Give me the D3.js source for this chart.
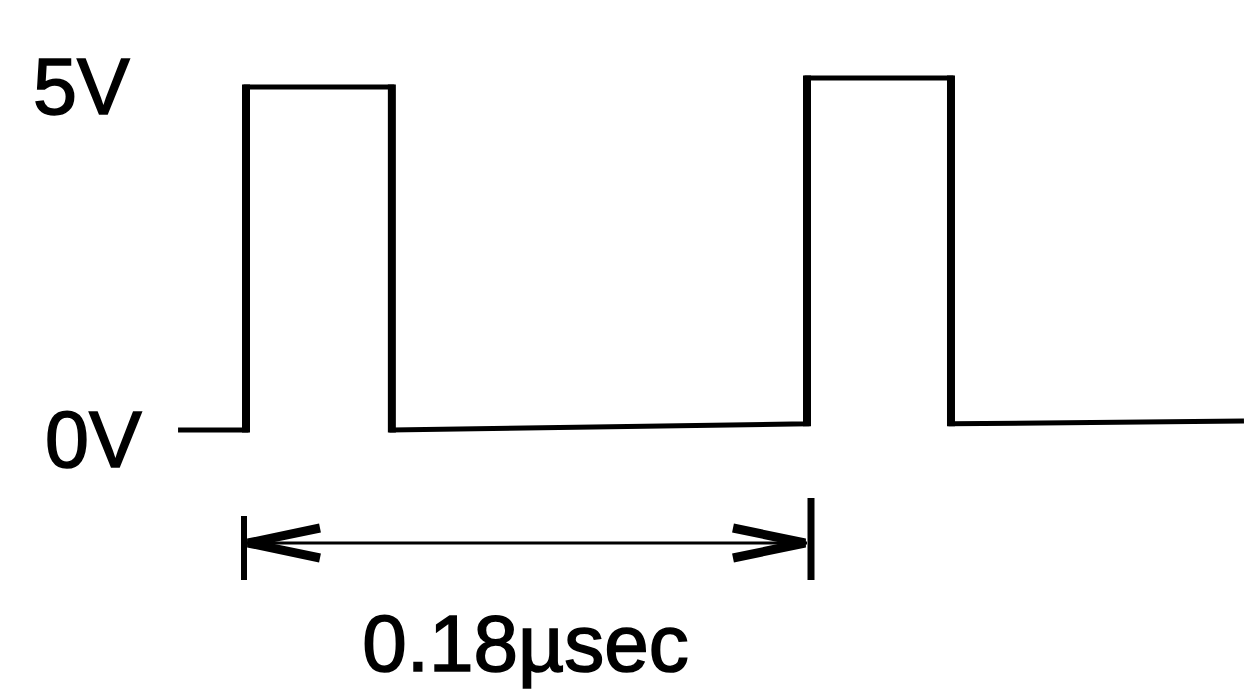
<!DOCTYPE html>
<html>
<head>
<meta charset="utf-8">
<script src="https://cdn.jsdelivr.net/npm/d3@7"></script>
<style>
  body { margin: 0; background: #fff; }
  svg { display: block; }
  text { font-family: "Liberation Sans", Arial, sans-serif; fill: #000; stroke: #000; stroke-width: 1.6px; }
</style>
</head>
<body>
<div id="chart"></div>
<script>
// waveform: time in usec, level in volts
var times  = [-0.0218, 0, 0, 0.0468, 0.0468, 0.18, 0.18, 0.2262, 0.2262, 0.3202];
var levels = [0, 0, 5, 5, 0, 0.09, 5.13, 5.13, 0.09, 0.13];
var levelLabels = ["5V", "0V"];
var levelValues = [5, 0];
var period = [0, 0.18];
var periodLabel = "0.18\u00b5sec";

var width = 1244,
    height = 700;

var x = d3.scaleLinear().domain([0, 0.18]).range([246, 807]);
var y = d3.scaleLinear().domain([0, 5]).range([430, 87]);

var svg = d3.select("#chart").append("svg")
    .attr("width", width)
    .attr("height", height);

var pts = times.map(function(t, i) { return [t, levels[i]]; });

var line = d3.line()
    .x(function(d) { return x(d[0]); })
    .y(function(d) { return y(d[1]); });

var hw = 5;
// whole trace, horizontals are thinner than the edges in the scan
svg.append("path")
    .attr("d", line(pts))
    .attr("fill", "none")
    .attr("stroke", "#000")
    .attr("stroke-width", hw)
    .attr("stroke-linejoin", "miter");

// heavier vertical edges
for (var i = 1; i < pts.length; i++) {
  if (pts[i][0] === pts[i - 1][0]) {
    var ya = y(pts[i - 1][1]), yb = y(pts[i][1]);
    var lo = Math.min(ya, yb) - hw / 2, hi = Math.max(ya, yb) + hw / 2;
    svg.append("line")
        .attr("x1", x(pts[i][0])).attr("x2", x(pts[i][0]))
        .attr("y1", lo).attr("y2", hi)
        .attr("stroke", "#000")
        .attr("stroke-width", 8);
  }
}

// level labels
svg.selectAll(".lvl")
    .data(levelLabels)
    .enter().append("text")
    .attr("class", "lvl")
    .attr("x", function(d, i) { return i === 0 ? 33 : 45; })
    .attr("y", function(d, i) { return y(levelValues[i]) + (i === 0 ? 27 : 37); })
    .style("font-size", "79px")
    .text(function(d) { return d; });

// period dimension arrow
var ay = 543;
var x0 = x(period[0]), x1 = x(period[1]);

svg.append("line")
    .attr("x1", x0).attr("x2", x1)
    .attr("y1", ay).attr("y2", ay)
    .attr("stroke", "#000").attr("stroke-width", 3);

svg.append("line")
    .attr("x1", x0 - 2).attr("x2", x0 - 2)
    .attr("y1", 516).attr("y2", 580)
    .attr("stroke", "#000").attr("stroke-width", 6);

svg.append("line")
    .attr("x1", x1 + 4).attr("x2", x1 + 4)
    .attr("y1", 498).attr("y2", 580)
    .attr("stroke", "#000").attr("stroke-width", 7);

var heads = [[x0, 1], [x1, -1]];
svg.selectAll(".head")
    .data(heads)
    .enter().append("path")
    .attr("class", "head")
    .attr("d", function(d) {
      var tip = d[0], dir = d[1];
      return "M" + (tip + dir * 74) + "," + (ay - 15) +
             "L" + (tip + dir * 2) + "," + ay +
             "L" + (tip + dir * 74) + "," + (ay + 15);
    })
    .attr("fill", "none")
    .attr("stroke", "#000")
    .attr("stroke-width", 9)
    .attr("stroke-linejoin", "miter");

svg.append("text")
    .attr("x", (x0 + x1) / 2 - 1)
    .attr("y", 671)
    .attr("text-anchor", "middle")
    .style("font-size", "80px")
    .text(periodLabel);
</script>
</body>
</html>
